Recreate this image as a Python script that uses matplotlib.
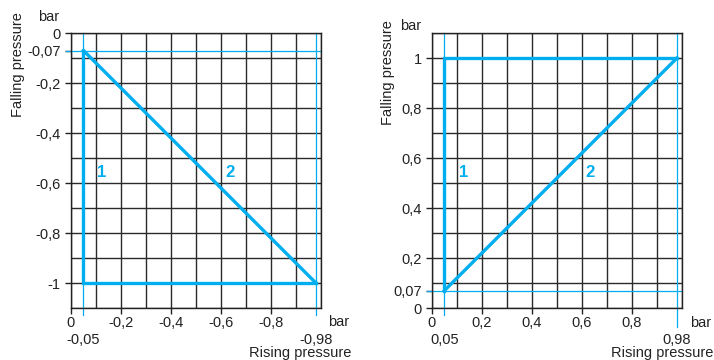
import matplotlib.pyplot as plt
import numpy as np

plt.rcParams['font.family'] = ['Liberation Sans', 'DejaVu Sans']

blue = '#00aeef'

# left chart (vacuum)
l_switch_on = -0.05
l_switch_off = -0.98
l_fall_min = -0.07
l_fall_max = -1.0
l_curve1_x = [l_switch_on, l_switch_on, l_switch_off]
l_curve1_y = [l_fall_min, l_fall_max, l_fall_max]
l_curve2_x = [l_switch_on, l_switch_off]
l_curve2_y = [l_fall_min, l_fall_max]
l_xticks = [0, -0.2, -0.4, -0.6, -0.8]
l_xlabels = ['0', '-0,2', '-0,4', '-0,6', '-0,8']
l_yticks = [0, -0.07, -0.2, -0.4, -0.6, -0.8, -1]
l_ylabels = ['0', '-0,07', '-0,2', '-0,4', '-0,6', '-0,8', '-1']
l_extra = [(-0.05, '-0,05'), (-0.98, '-0,98')]

# right chart (pressure)
r_switch_on = 0.05
r_switch_off = 0.98
r_fall_min = 0.07
r_fall_max = 1.0
r_curve1_x = [r_switch_on, r_switch_on, r_switch_off]
r_curve1_y = [r_fall_min, r_fall_max, r_fall_max]
r_curve2_x = [r_switch_on, r_switch_off]
r_curve2_y = [r_fall_min, r_fall_max]
r_xticks = [0, 0.2, 0.4, 0.6, 0.8]
r_xlabels = ['0', '0,2', '0,4', '0,6', '0,8']
r_yticks = [0, 0.07, 0.2, 0.4, 0.6, 0.8, 1]
r_ylabels = ['0', '0,07', '0,2', '0,4', '0,6', '0,8', '1']
r_extra = [(0.05, '0,05'), (0.98, '0,98')]


def draw(ax, sign, on, off, fmin, c1x, c1y, c2x, c2y, xt, xl, yt, yl, extra,
         lab1, lab2, ylab_pos, bar_pos, xbar_pos):
    ax.set_xlim(0, sign * 1.0)
    ax.set_ylim(0, sign * 1.1) if sign > 0 else ax.set_ylim(sign * 1.1, 0)
    # grid every 0.1, kept even where a labelled tick sits
    ax.xaxis.remove_overlapping_locs = False
    ax.yaxis.remove_overlapping_locs = False
    ax.set_xticks(sign * np.arange(0, 11) / 10, minor=True)
    ax.set_yticks(sign * np.arange(0, 12) / 10, minor=True)
    ax.grid(which='minor', color='#2a2a2a', lw=1.0)
    ax.set_axisbelow(True)
    ax.tick_params(which='minor', length=0)
    ax.tick_params(which='major', length=4, width=1, direction='out',
                   labelsize=10.5, colors='#222222')
    ax.tick_params(axis='x', which='major', pad=2)
    ax.set_xticks(xt, xl)
    ax.set_yticks(yt, yl)
    for s in ax.spines.values():
        s.set_linewidth(1.0)
        s.set_color('#222222')

    # thin reference lines
    ax.axhline(fmin, xmin=-0.02, xmax=1, color=blue, lw=0.9, clip_on=False)
    ax.axvline(on, ymin=-0.025, ymax=1, color=blue, lw=0.9, clip_on=False)
    ax.axvline(off, ymin=-0.025 if sign < 0 else -0.07, ymax=1, color=blue,
               lw=0.9, clip_on=False)

    ax.plot(c1x, c1y, color=blue, lw=2.4, solid_joinstyle='miter', zorder=5)
    ax.plot(c2x, c2y, color=blue, lw=2.4, zorder=5)
    ax.text(lab1[0], lab1[1], '1', color=blue, fontsize=12, fontweight='bold',
            ha='center', va='center', zorder=6)
    ax.text(lab2[0], lab2[1], '2', color=blue, fontsize=12, fontweight='bold',
            ha='center', va='center', zorder=6)

    trans = ax.get_xaxis_transform()
    for x, s in extra:
        ax.text(x, -0.118, s, transform=trans, ha='center', va='center',
                fontsize=10.5, color='#222222')

    ax.text(ylab_pos[0], ylab_pos[1], 'Falling pressure', rotation=90,
            transform=ax.transAxes, ha='center', va='center', fontsize=10.5,
            color='#222222')
    ax.text(bar_pos[0], bar_pos[1], 'bar', transform=ax.transAxes,
            ha='center', va='center', fontsize=10.5, color='#222222')
    ax.text(xbar_pos[0], xbar_pos[1], 'bar', transform=ax.transAxes,
            ha='center', va='center', fontsize=10.5, color='#222222')
    ax.text(xbar_pos[0] + 0.048, -0.165, 'Rising pressure', transform=ax.transAxes,
            ha='right', va='center', fontsize=10.5, color='#222222')


fig = plt.figure(figsize=(7.14, 3.6), dpi=100)
ax1 = fig.add_axes([0.0994, 0.1444, 0.3501, 0.7639])
ax2 = fig.add_axes([0.6050, 0.1444, 0.3501, 0.7639])

draw(ax1, -1, l_switch_on, l_switch_off, l_fall_min, l_curve1_x, l_curve1_y,
     l_curve2_x, l_curve2_y, l_xticks, l_xlabels, l_yticks, l_ylabels, l_extra,
     (-0.124, -0.556), (-0.636, -0.556), (-0.212, 0.887), (-0.088, 1.058),
     (1.072, -0.051))
draw(ax2, 1, r_switch_on, r_switch_off, r_fall_min, r_curve1_x, r_curve1_y,
     r_curve2_x, r_curve2_y, r_xticks, r_xlabels, r_yticks, r_ylabels, r_extra,
     (0.128, 0.544), (0.632, 0.544), (-0.176, 0.858), (-0.084, 1.025),
     (1.076, -0.055))

fig.savefig('out.png', dpi=100)
